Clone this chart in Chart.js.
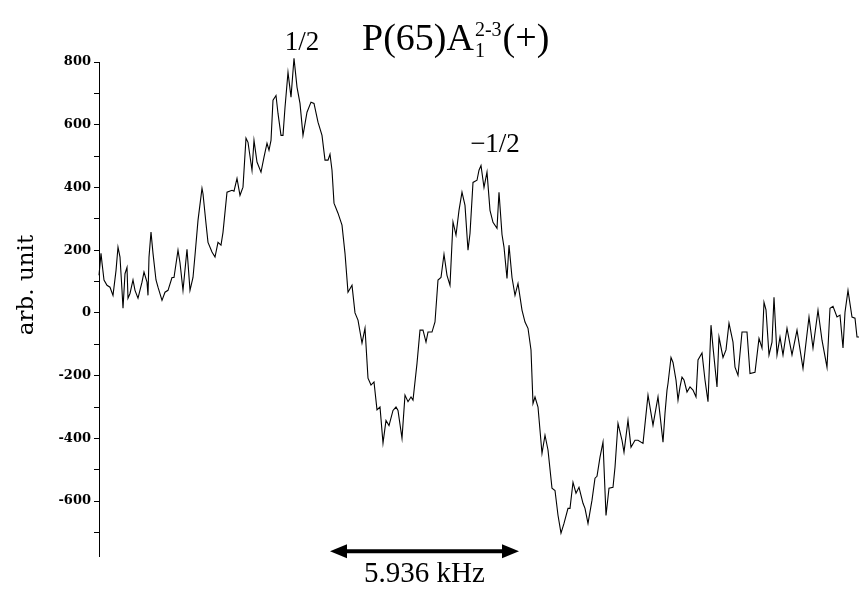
<!DOCTYPE html>
<html>
<head>
<meta charset="utf-8">
<script src="https://cdn.jsdelivr.net/npm/chart.js@4.4.1/dist/chart.umd.min.js"></script>
<style>
  html, body { margin: 0; padding: 0; background: #fff; }
  #wrap { width: 859px; height: 589px; }
</style>
</head>
<body>
<div id="wrap"><canvas id="spectrum" width="859" height="589"></canvas></div>
<script>
// Scan position (arbitrary channel units, x axis carries no labels)
const channel = [
  0, 2, 3, 5, 8, 11, 14, 17, 19, 21, 23, 24, 26, 28, 29, 31, 34, 36, 39, 43,
  45, 48, 49, 50, 52, 54, 57, 59, 63, 66, 69, 73, 75, 79, 81, 84, 88, 91, 94, 96,
  99, 103, 104, 107, 109, 113, 116, 119, 122, 124, 128, 133, 135, 138, 141, 144, 147, 149, 153, 155,
  158, 162, 165, 168, 170, 172, 174, 177, 179, 182, 184, 186, 189, 192, 195, 198, 201, 204, 208, 212,
  215, 219, 223, 226, 229, 231, 233, 235, 239, 243, 246, 249, 253, 256, 259, 263, 266, 269, 272, 275,
  278, 281, 284, 287, 290, 294, 297, 299, 303, 306, 309, 312, 314, 318, 321, 324, 327, 329, 333, 336,
  339, 342, 345, 348, 351, 354, 357, 360, 363, 366, 369, 371, 374, 378, 380, 382, 385, 388, 391, 394,
  398, 400, 403, 405, 408, 410, 413, 416, 419, 423, 426, 429, 432, 434, 436, 439, 443, 446, 449, 453,
  456, 459, 462, 465, 469, 471, 474, 477, 480, 484, 486, 489, 493, 496, 498, 501, 504, 507, 510, 514,
  516, 519, 523, 525, 529, 532, 536, 539, 544, 549, 554, 559, 564, 566, 568, 569, 572, 574, 577, 579,
  581, 583, 585, 588, 591, 594, 597, 599, 603, 606, 609, 612, 614, 618, 620, 624, 627, 630, 634, 636,
  639, 643, 648, 651, 656, 660, 663, 665, 667, 670, 673, 675, 678, 681, 684, 688, 693, 698, 704, 710,
  714, 719, 723, 728, 731, 734, 738, 741, 744, 746, 749, 753, 756, 758, 760
];
const signal = [
  120, 190, 160, 105, 88, 82, 56, 135, 210, 178, 72, 15, 125, 145, 47, 62, 105, 72, 47, 98,
  130, 98, 56, 178, 258, 190, 105, 82, 40, 66, 72, 113, 113, 200, 160, 72, 203, 72, 113, 184,
  295, 397, 380, 285, 225, 194, 178, 225, 216, 257, 385, 391, 388, 429, 375, 401, 557, 544, 455, 550,
  481, 449, 497, 541, 519, 550, 678, 693, 636, 566, 566, 655, 767, 688, 812, 720, 668, 566, 640, 672,
  668, 608, 566, 487, 487, 506, 455, 350, 318, 280, 190, 66, 88, 0, -23, -96, -49, -208, -230, -220,
  -309, -300, -415, -343, -359, -311, -300, -311, -400, -262, -283, -268, -278, -161, -55, -55, -93, -61, -61, -29,
  105, 113, 187, 120, 88, 290, 248, 327, 385, 343, 200, 253, 416, 423, 455, 470, 400, 449, 327, 289,
  270, 385, 250, 210, 110, 216, 113, 56, 94, 9, -29, -49, -118, -289, -268, -300, -448, -390, -437, -559,
  -566, -645, -702, -671, -623, -623, -540, -575, -556, -607, -623, -671, -597, -527, -521, -460, -412, -646, -559, -556,
  -492, -352, -406, -444, -342, -428, -406, -406, -416, -262, -358, -268, -412, -320, -246, -225, -142, -158, -214, -278,
  -236, -205, -214, -252, -236, -246, -268, -150, -128, -214, -283, -39, -109, -236, -77, -142, -118, -33, -93, -173,
  -199, -61, -61, -193, -189, -81, -112, 34, 10, -134, -93, 50, -134, -77, -134, -49, -134, -55, -177, -13,
  -112, 9, -87, -173, 15, 21, -13, -7, -112, 2, 72, -13, -17, -77, -77
];
// Labelled y ticks; minor ticks every 100 carry no label
const tickLabels = [-600, -400, -200, 0, 200, 400, 600, 800];

const points = channel.map((c, i) => ({ x: c, y: signal[i] }));

const serif = '"Liberation Serif", "Times New Roman", serif';

// Title, peak labels, y title and the 5.936 kHz arrow
const annotations = {
  id: 'annotations',
  afterDraw(chart) {
    const ctx = chart.ctx;
    const xs = chart.scales.x, ys = chart.scales.y;
    ctx.save();
    ctx.fillStyle = '#000';
    ctx.strokeStyle = '#000';
    ctx.textBaseline = 'alphabetic';

    // title P(65)A_1^{2-3}(+)
    let tx = 362;
    ctx.textAlign = 'left';
    ctx.font = '38px ' + serif;
    ctx.fillText('P(65)A', tx, 50);
    tx += ctx.measureText('P(65)A').width;
    ctx.font = '20px ' + serif;
    ctx.fillText('1', tx + 1, 57);
    ctx.fillText('2-3', tx + 1, 36);
    tx += ctx.measureText('2-3').width + 2;
    ctx.font = '38px ' + serif;
    ctx.fillText('(+)', tx, 50);

    // peak labels
    ctx.textAlign = 'center';
    ctx.font = '27px ' + serif;
    ctx.fillText('1/2', 302, 50);
    ctx.fillText('\u22121/2', 495, 152);

    // y axis title
    ctx.save();
    ctx.translate(33, 285);
    ctx.rotate(-Math.PI / 2);
    ctx.font = '23px "DejaVu Serif", serif';
    ctx.fillText('arb. unit', 0, 0);
    ctx.restore();

    // double arrow spanning the splitting
    const ay = ys.getPixelForValue(-760);
    const x0 = xs.getPixelForValue(231), x1 = xs.getPixelForValue(420);
    ctx.lineWidth = 4;
    ctx.beginPath();
    ctx.moveTo(x0 + 12, ay);
    ctx.lineTo(x1 - 12, ay);
    ctx.stroke();
    ctx.beginPath();
    ctx.moveTo(x0, ay);
    ctx.lineTo(x0 + 17, ay - 7);
    ctx.lineTo(x0 + 17, ay + 7);
    ctx.closePath();
    ctx.fill();
    ctx.beginPath();
    ctx.moveTo(x1, ay);
    ctx.lineTo(x1 - 17, ay - 7);
    ctx.lineTo(x1 - 17, ay + 7);
    ctx.closePath();
    ctx.fill();
    ctx.font = '29px ' + serif;
    ctx.fillText('5.936 kHz', (x0 + x1) / 2, 582);
    ctx.restore();
  }
};

new Chart(document.getElementById('spectrum'), {
  type: 'line',
  data: {
    datasets: [{
      data: points,
      borderColor: '#000',
      borderWidth: 1.1,
      pointRadius: 0,
      tension: 0,
      clip: false
    }]
  },
  options: {
    responsive: false,
    animation: false,
    devicePixelRatio: 1,
    layout: { padding: { top: 62, bottom: 33, left: 0, right: 0 } },
    plugins: { legend: { display: false }, tooltip: { enabled: false } },
    scales: {
      x: {
        type: 'linear',
        display: false,
        min: 0,
        max: 760
      },
      y: {
        min: -775,
        max: 800,
        afterFit(scale) { scale.width = 99; },
        border: { display: true, color: '#000', width: 1 },
        grid: { drawOnChartArea: false, color: '#000', tickLength: 5 },
        ticks: {
          stepSize: 100,
          includeBounds: false,
          padding: 3,
          color: '#000',
          font: { family: '"DejaVu Serif", serif', size: 13, weight: 'bold' },
          callback: v => tickLabels.includes(v) ? String(v) : ''
        }
      }
    }
  },
  plugins: [annotations]
});
</script>
</body>
</html>
